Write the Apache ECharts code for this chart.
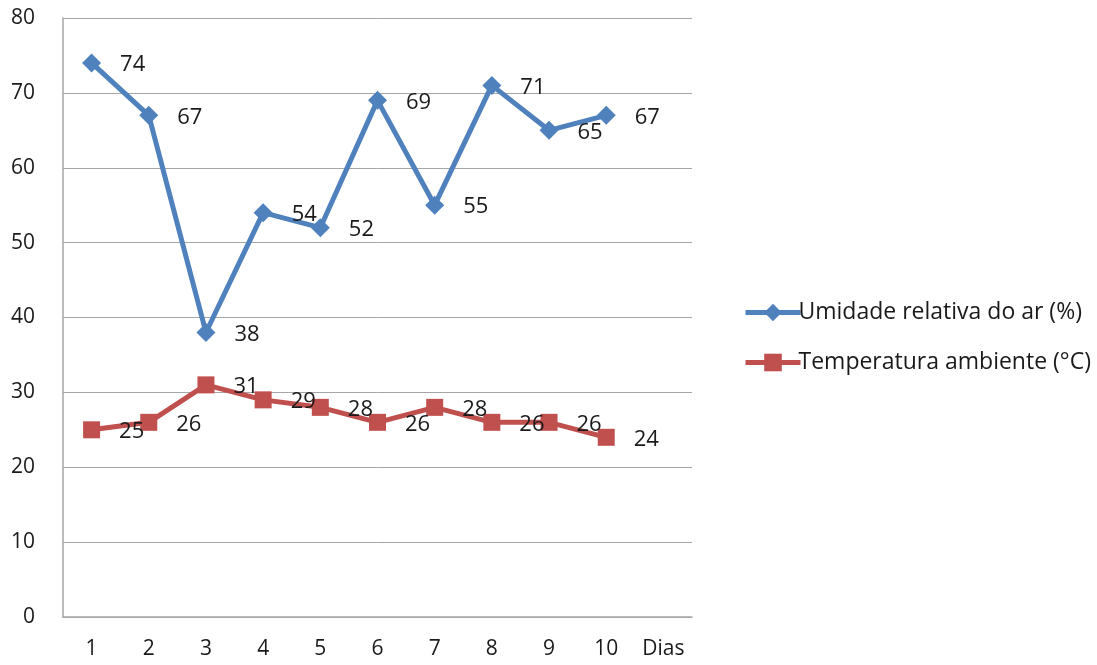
<!DOCTYPE html>
<html>
<head>
<meta charset="utf-8">
<script src="https://cdn.jsdelivr.net/npm/echarts@6/dist/echarts.min.js"></script>
<style>
  html, body { margin: 0; padding: 0; background: #fff; }
  #chart { width: 1097px; height: 665px; }
</style>
</head>
<body>
<div id="chart"></div>
<script>
// Daily readings over ten days
const days = ['1', '2', '3', '4', '5', '6', '7', '8', '9', '10', 'Dias'];
const umidade = [74, 67, 38, 54, 52, 69, 55, 71, 65, 67];
const temperatura = [25, 26, 31, 29, 28, 26, 28, 26, 26, 24];
const yTicks = [0, 10, 20, 30, 40, 50, 60, 70, 80];

const FONT = 'Open Sans';
const TEXT = '#1a1a1a';
const BLUE = '#4f81bd';
const RED = '#c0504d';

const chart = echarts.init(document.getElementById('chart'), null, { renderer: 'canvas' });

const labelStyle = {
  show: true,
  position: 'right',
  distance: 19,
  offset: [0, 2],
  color: TEXT,
  fontFamily: FONT,
  fontSize: 22
};

chart.setOption({
  animation: false,
  backgroundColor: '#fff',
  grid: { left: 63, right: 405, top: 18, bottom: 48, containLabel: false },
  legend: {
    orient: 'vertical',
    left: 738,
    top: 296,
    itemWidth: 55,
    itemHeight: 22,
    itemGap: 27,
    lineStyle: { width: 5 },
    textStyle: { color: TEXT, fontFamily: FONT, fontSize: 23, lineHeight: 23, padding: [0, 0, 0, -7] },
    data: ['Umidade relativa do ar (%)', 'Temperatura ambiente (°C)']
  },
  xAxis: {
    type: 'category',
    data: days,
    boundaryGap: true,
    axisLine: { lineStyle: { color: '#a6a6a6', width: 1.5 } },
    axisTick: { show: false },
    axisLabel: { interval: 0, color: TEXT, fontFamily: FONT, fontSize: 21, margin: 22 },
    splitLine: { show: false }
  },
  yAxis: {
    type: 'value',
    min: yTicks[0],
    max: yTicks[yTicks.length - 1],
    interval: 10,
    axisLine: { show: true, lineStyle: { color: '#a6a6a6', width: 1.5 } },
    axisTick: { show: false },
    axisLabel: { color: TEXT, fontFamily: FONT, fontSize: 21, margin: 28 },
    splitLine: { lineStyle: { color: '#a6a6a6', width: 1 } }
  },
  series: [
    {
      name: 'Umidade relativa do ar (%)',
      type: 'line',
      data: umidade,
      symbol: 'diamond',
      symbolSize: 19,
      color: BLUE,
      lineStyle: { color: BLUE, width: 5 },
      itemStyle: { color: BLUE },
      label: labelStyle,
      z: 3
    },
    {
      name: 'Temperatura ambiente (°C)',
      type: 'line',
      data: temperatura,
      symbol: 'rect',
      symbolSize: 17,
      color: RED,
      lineStyle: { color: RED, width: 5 },
      itemStyle: { color: RED },
      label: labelStyle,
      z: 2
    }
  ]
});
</script>
</body>
</html>
